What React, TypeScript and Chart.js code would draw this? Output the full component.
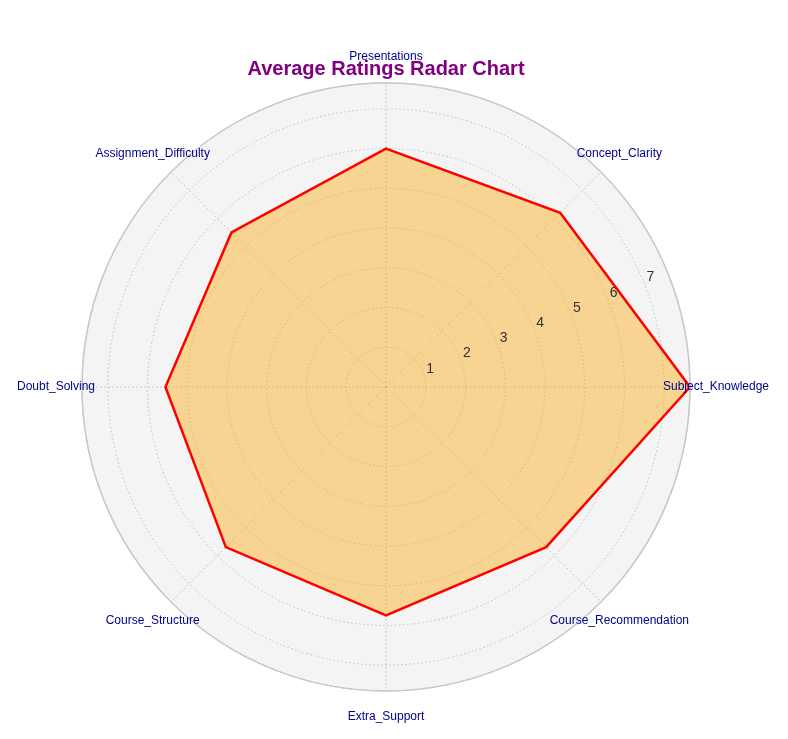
import { useEffect, useRef } from "react";
import { Chart, registerables } from "chart.js";

Chart.register(...registerables);

// clockwise from the right-hand axis (reference runs counter-clockwise)
const labels = [
  "Subject_Knowledge",
  "Course_Recommendation",
  "Extra_Support",
  "Course_Structure",
  "Doubt_Solving",
  "Assignment_Difficulty",
  "Presentations",
  "Concept_Clarity",
];
const ratings = [7.65, 5.7, 5.75, 5.7, 5.55, 5.5, 6.0, 6.2];
const tickValues = [1, 2, 3, 4, 5, 6, 7];
const rMax = 7.65;

const polarBg = {
  id: "polarBg",
  beforeDatasetsDraw(chart: any) {
    const s = chart.scales.r;
    const { ctx } = chart;
    ctx.save();
    ctx.beginPath();
    ctx.arc(s.xCenter, s.yCenter, s.drawingArea, 0, Math.PI * 2);
    ctx.fillStyle = "rgba(235,235,235,0.55)";
    ctx.fill();
    ctx.restore();
  },
  afterDraw(chart: any) {
    const s = chart.scales.r;
    const { ctx } = chart;
    ctx.save();
    ctx.beginPath();
    ctx.arc(s.xCenter, s.yCenter, s.drawingArea, 0, Math.PI * 2);
    ctx.strokeStyle = "#c8c8c8";
    ctx.lineWidth = 1.5;
    ctx.stroke();
    // tick labels along 22.5°
    ctx.font = "14px Arial, 'Liberation Sans', sans-serif";
    ctx.fillStyle = "#333";
    ctx.textAlign = "center";
    ctx.textBaseline = "middle";
    const a = (-22.5 * Math.PI) / 180;
    tickValues.forEach((v) => {
      const d = s.getDistanceFromCenterForValue(v) + 8;
      ctx.fillText(String(v), s.xCenter + d * Math.cos(a), s.yCenter + d * Math.sin(a));
    });
    // axis labels
    ctx.font = "12px Arial, 'Liberation Sans', sans-serif";
    ctx.fillStyle = "#00008b";
    const lr = s.drawingArea + 26;
    labels.forEach((l, i) => {
      const ang = (i * 2 * Math.PI) / labels.length;
      ctx.fillText(l, s.xCenter + lr * Math.cos(ang), s.yCenter + lr * Math.sin(ang));
    });
    ctx.restore();
  },
};

export default function App() {
  const ref = useRef<HTMLCanvasElement | null>(null);

  useEffect(() => {
    document.body.style.margin = "0";
    const chart = new Chart(ref.current!, {
      type: "radar",
      data: {
        labels,
        datasets: [
          {
            data: ratings,
            borderColor: "#ff0000",
            borderWidth: 2.5,
            backgroundColor: "rgba(255,165,0,0.4)",
            fill: true,
            pointRadius: 0,
          },
        ],
      },
      options: {
        animation: false,
        responsive: false,
        layout: { padding: { left: 82, right: 98, top: 51, bottom: 45 } },
        plugins: {
          legend: { display: false },
          tooltip: { enabled: false },
          title: {
            display: true,
            text: "Average Ratings Radar Chart",
            color: "#800080",
            font: { size: 20, weight: "bold", family: "Arial, 'Liberation Sans', sans-serif" },
            padding: { top: 6, bottom: 0 },
          },
        },
        scales: {
          r: {
            min: 0,
            max: rMax,
            startAngle: 90,
            ticks: { display: false, stepSize: 1 },
            grid: { circular: true, color: "#888", lineWidth: 1 },
            border: { dash: [1.5, 2.5] },
            angleLines: { color: "#888", borderDash: [1.5, 2.5] } as any,
            pointLabels: { display: false },
          } as any,
        },
      },
      plugins: [polarBg],
    });
    return () => chart.destroy();
  }, []);

  return <canvas ref={ref} width={788} height={739} />;
}
